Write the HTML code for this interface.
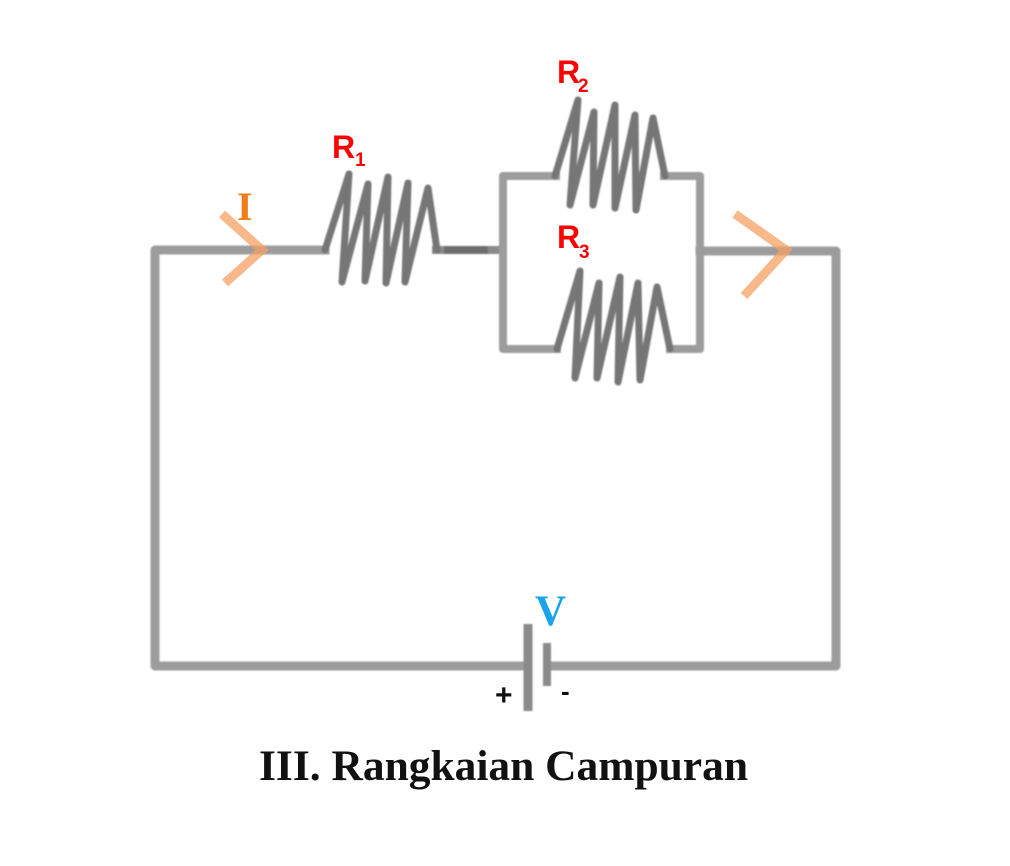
<!DOCTYPE html>
<html>
<head>
<meta charset="utf-8">
<style>
  html, body { margin: 0; padding: 0; background: #ffffff; }
  body { width: 1010px; height: 866px; overflow: hidden; position: relative; }
  svg { position: absolute; left: 0; top: 0; }
</style>
</head>
<body>
<svg width="1010" height="866" viewBox="0 0 1010 866" xmlns="http://www.w3.org/2000/svg">
  <defs>
    <filter id="soft" x="-5%" y="-5%" width="110%" height="110%">
      <feGaussianBlur stdDeviation="0.7"/>
    </filter>
  </defs>

  <g filter="url(#soft)" fill="none" stroke-linejoin="round" stroke-linecap="square">
    <!-- main loop wires -->
    <polyline points="325,250 155,250 155,666 520,666" stroke="#9c9c9c" stroke-width="9"/>
    <polyline points="552,666 836,666 836,251 700,251" stroke="#9c9c9c" stroke-width="9"/>
    <!-- junction wire R1 to parallel box -->
    <line x1="436" y1="250" x2="503" y2="250" stroke="#8a8a8a" stroke-width="8"/>
    <line x1="448" y1="250" x2="484" y2="250" stroke="#6e6e6e" stroke-width="8"/>

    <!-- parallel box -->
    <polyline points="556,176 503,176 503,349 557,349" stroke="#9c9c9c" stroke-width="8"/>
    <polyline points="664,176 700,176 700,349 670,349" stroke="#9c9c9c" stroke-width="8"/>

    <!-- R1 -->
    <polyline points="325,250 349,174 342,282 368,184 365,281 388,177 386,283 408,183 405,282 428,188 437,250"
              stroke="#767676" stroke-width="7" stroke-linecap="round"/>
    <!-- R2 -->
    <polyline points="555,176 578,100 570,205 594,112 593,205 615,105 615,208 635,115 636,210 653,118 665,176"
              stroke="#767676" stroke-width="7" stroke-linecap="round"/>
    <!-- R3 -->
    <polyline points="557,349 580,271 575,378 599,283 597,378 620,277 618,382 638,283 640,380 657,287 670,349"
              stroke="#767676" stroke-width="7" stroke-linecap="round"/>

    <!-- battery -->
    <line x1="528" y1="624" x2="528" y2="711" stroke="#8a8a8a" stroke-width="9" stroke-linecap="butt"/>
    <line x1="547" y1="643" x2="547" y2="686" stroke="#8a8a8a" stroke-width="8" stroke-linecap="butt"/>
  </g>

  <!-- current arrows -->
  <g fill="none" stroke="#f5a062" stroke-opacity="0.75" stroke-width="9" stroke-linecap="butt">
    <polyline points="222,214 262,250 225,283"/>
    <polyline points="735,214 786,250 744,296"/>
  </g>

  <!-- labels -->
  <g font-family="'Liberation Sans', sans-serif" font-weight="bold" fill="#ff0000">
    <text x="332" y="158" font-size="32">R</text>
    <text x="355" y="166" font-size="19">1</text>
    <text x="557" y="83" font-size="32">R</text>
    <text x="578" y="92" font-size="19">2</text>
    <text x="557" y="248" font-size="32">R</text>
    <text x="579" y="258" font-size="19">3</text>
  </g>
  <text x="237" y="220" font-family="'Liberation Serif', serif" font-weight="bold" font-size="40" fill="#f07c1a">I</text>
  <text x="535" y="625" font-family="'Liberation Serif', serif" font-weight="bold" font-size="43" fill="#1aa3ea">V</text>
  <text x="495" y="705" font-family="'Liberation Sans', sans-serif" font-weight="bold" font-size="30" fill="#111">+</text>
  <text x="561" y="700" font-family="'Liberation Sans', sans-serif" font-weight="bold" font-size="26" fill="#111">-</text>

  <text x="259" y="780" font-family="'Liberation Serif', serif" font-weight="bold" font-size="43" fill="#111" textLength="489" lengthAdjust="spacingAndGlyphs">III. Rangkaian Campuran</text>
</svg>
</body>
</html>
